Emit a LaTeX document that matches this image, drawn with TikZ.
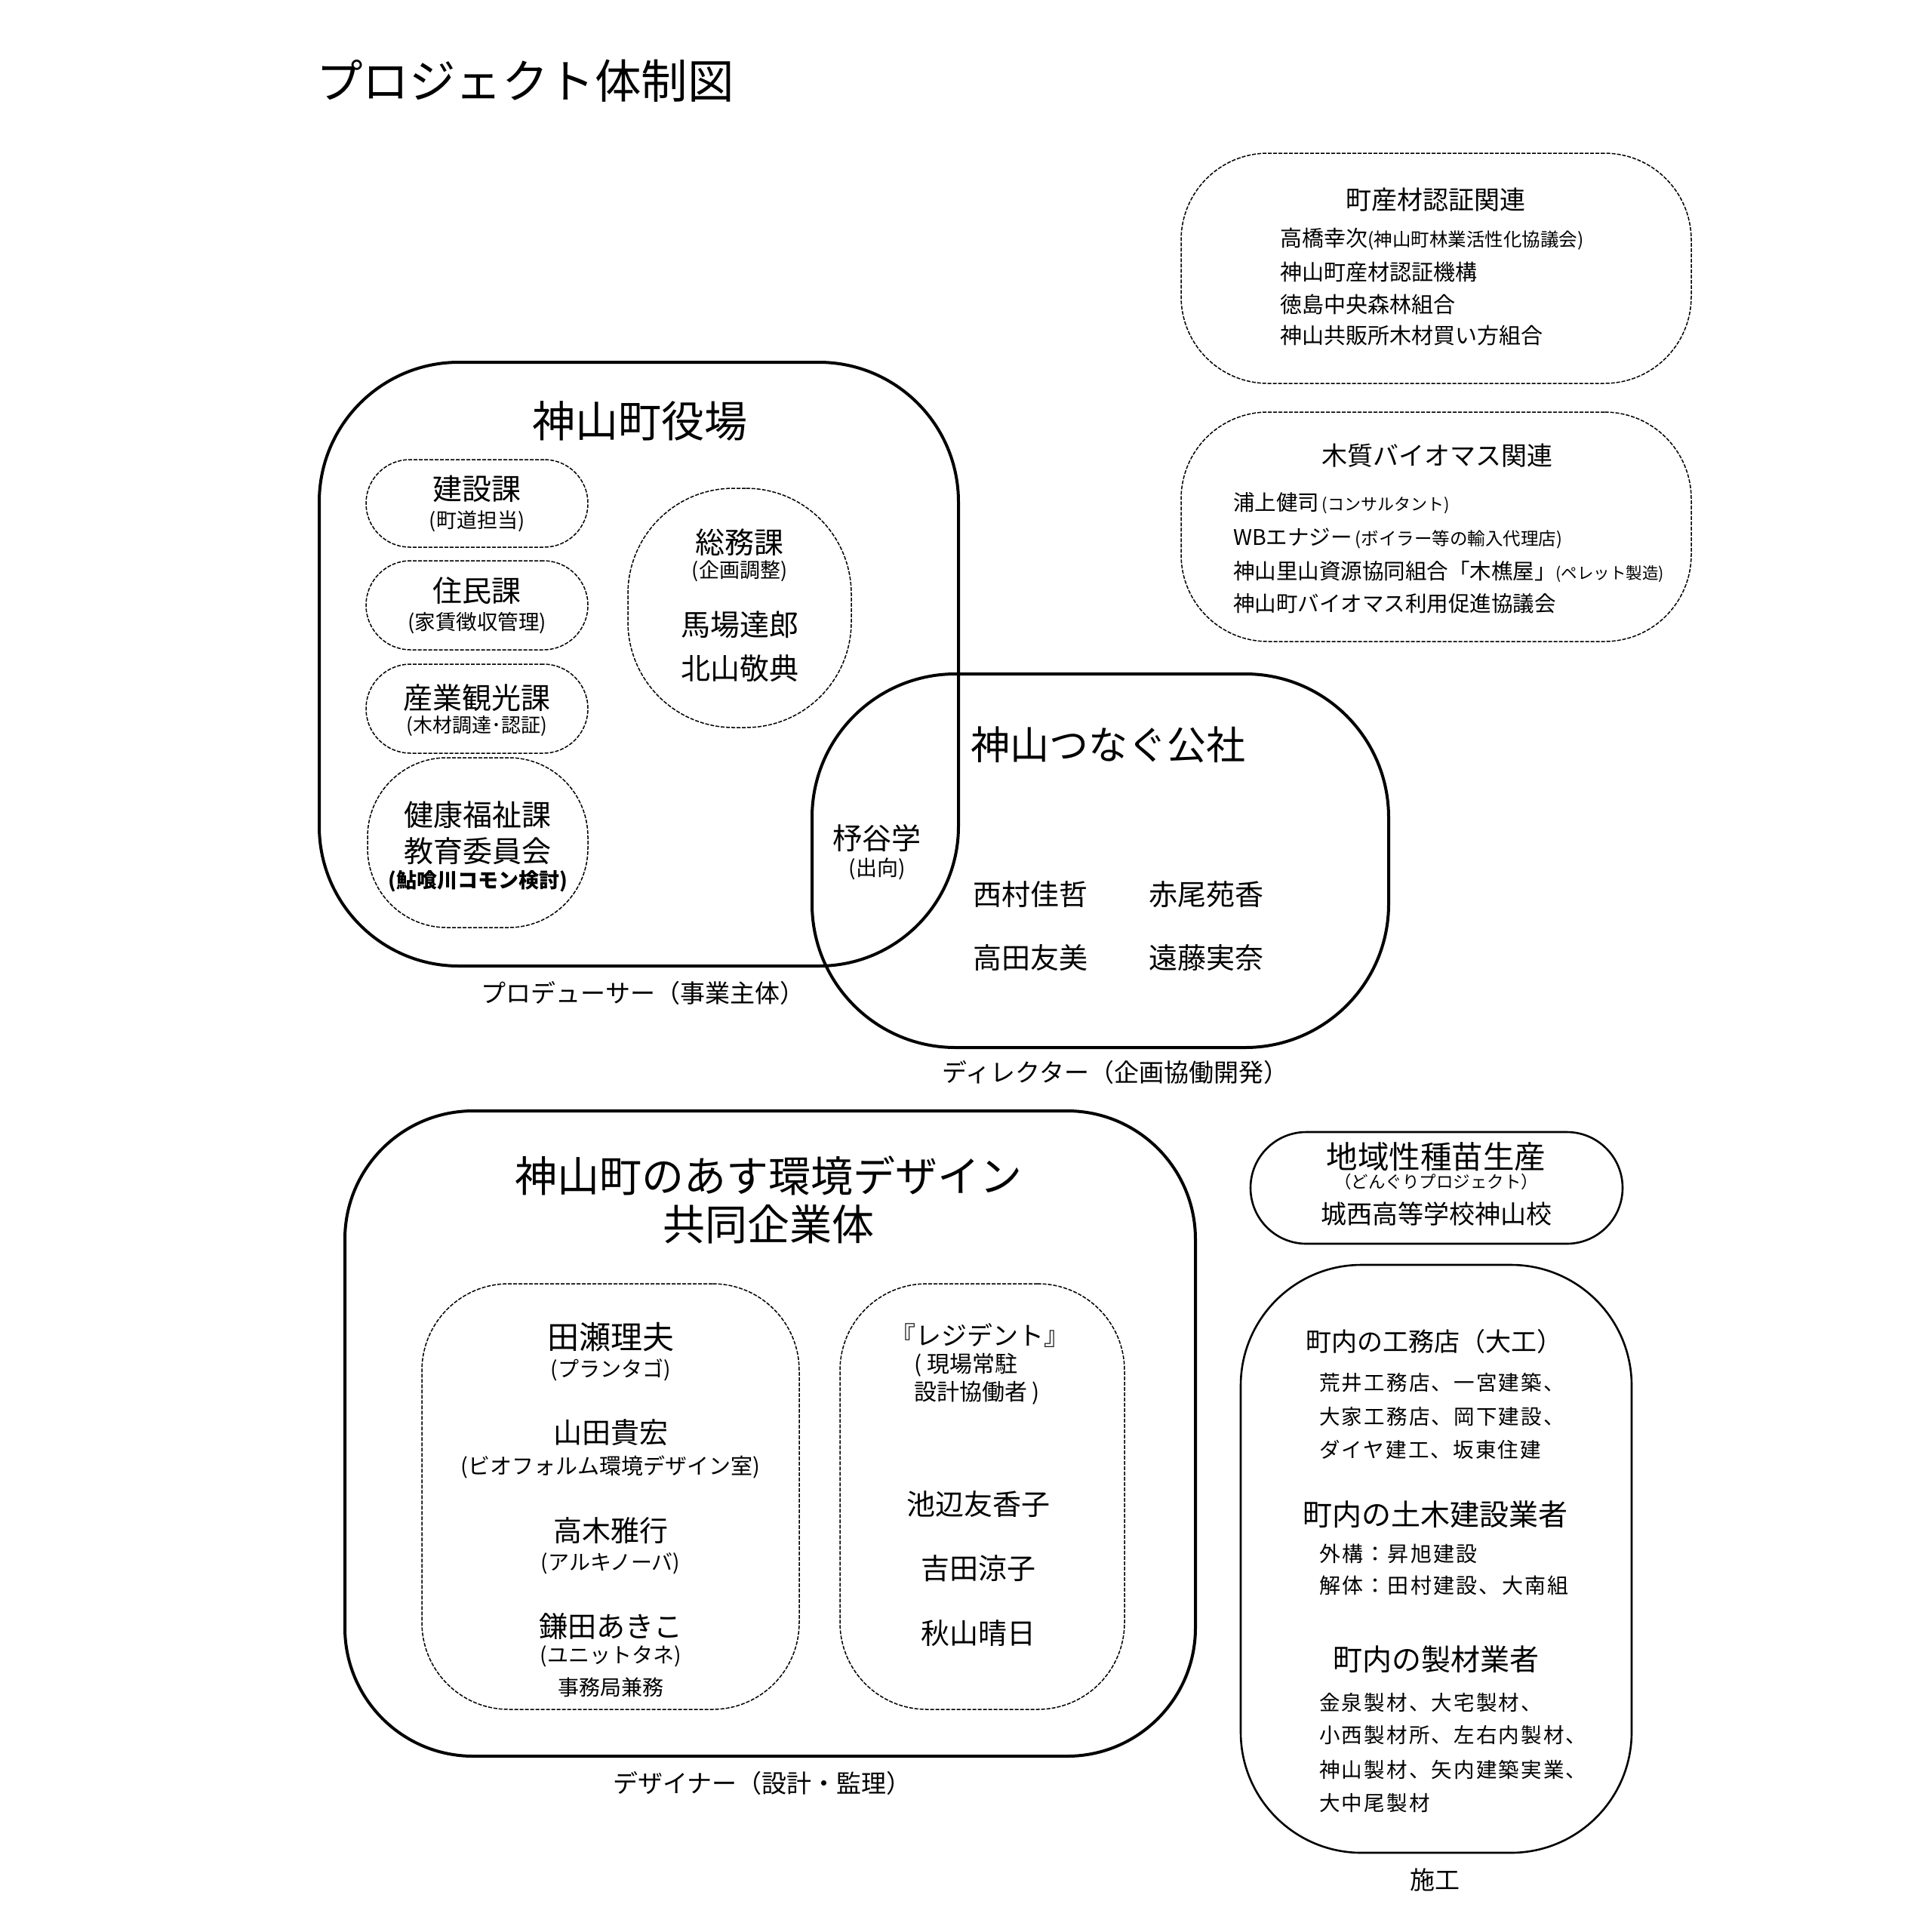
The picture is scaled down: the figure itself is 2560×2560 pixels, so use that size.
\documentclass[tikz,border=0pt]{standalone}
\usepackage{fontspec}
\setmainfont{Noto Sans CJK JP}
\newfontfamily\spacedfont[LetterSpace=8]{Noto Sans CJK JP}
\begin{document}
\begin{tikzpicture}[x=1pt,y=-1pt]
\tikzset{
  heavybox/.style={draw, line width=4pt, rounded corners=#1, inner sep=0pt},
  dashbox/.style={draw, line width=1.5pt, dash pattern=on 5pt off 2pt, rounded corners=#1, inner sep=0pt},
  solidbox/.style={draw, line width=2.6pt, rounded corners=#1, inner sep=0pt},
  lbl/.style={inner sep=0pt, font=\fontsize{#1pt}{#1pt}\selectfont},
  spaced/.style={inner sep=0pt, font=\spacedfont\fontsize{#1pt}{#1pt}\selectfont},
}
\fill[white] (0,0) rectangle (2560,2560);
\useasboundingbox (0,0) rectangle (2560,2560);

% title
\node[lbl=61.5, anchor=west] (title) at (419,107) {プロジェクト体制図};

% ---- top right: certification
\node[dashbox=115pt, minimum width=676pt, minimum height=305pt] (certbox) at (1903,355.5) {};
\node[lbl=34] (certhead) at (1902,265) {町産材認証関連};
\node[lbl=29, anchor=west] (certa) at (1696,317) {高橋幸次{\fontsize{24.5pt}{24.5pt}\selectfont(神山町林業活性化協議会)}};
\node[lbl=29, anchor=west] (certb) at (1696,361) {神山町産材認証機構};
\node[lbl=29, anchor=west] (certc) at (1696,403) {徳島中央森林組合};
\node[lbl=29, anchor=west] (certd) at (1696,444) {神山共販所木材買い方組合};

% ---- top right: biomass
\node[dashbox=115pt, minimum width=676pt, minimum height=304pt] (biobox) at (1903,698) {};
\node[lbl=34] (biohead) at (1904,604) {木質バイオマス関連};
\node[lbl=28.5, anchor=west] (bioa) at (1634,667) {浦上健司{\fontsize{22pt}{22pt}\selectfont\,(コンサルタント)}};
\node[lbl=28.5, anchor=west] (biob) at (1634,713) {WBエナジー{\fontsize{23.5pt}{23.5pt}\selectfont\,(ボイラー等の輸入代理店)}};
\node[lbl=28.5, anchor=west] (bioc) at (1634,758) {神山里山資源協同組合「木樵屋」{\fontsize{21.5pt}{21.5pt}\selectfont(ペレット製造)}};
\node[lbl=28.5, anchor=west] (biod) at (1634,800) {神山町バイオマス利用促進協議会};

% ---- town office
\node[heavybox=185pt, minimum width=847pt, minimum height=800pt] (yakuba) at (846.5,880) {};
\node[lbl=57] (yakubahead) at (848,558) {神山町役場};

\node[dashbox=58pt, minimum width=294pt, minimum height=116pt] (kensetsu) at (632,667) {};
\node[lbl=39] (kensetsua) at (632,648) {建設課};
\node[lbl=27] (kensetsub) at (632,691) {(町道担当)};

\node[dashbox=59pt, minimum width=294pt, minimum height=118pt] (jumin) at (632,802) {};
\node[lbl=39] (domina) at (632,783) {住民課};
\node[lbl=27.5] (dominb) at (632,826) {(家賃徴収管理)};

\node[dashbox=59pt, minimum width=294pt, minimum height=118pt] (sangyo) at (632,939) {};
\node[lbl=39] (sangyoa) at (632,925) {産業観光課};
\node[lbl=26] (sangyob) at (632,962) {(木材調達･認証)};

\node[dashbox=105pt, minimum width=292pt, minimum height=225pt] (kenko) at (633,1116.5) {};
\node[lbl=39] (kenkoa) at (633,1080) {健康福祉課};
\node[lbl=39] (kenkob) at (633,1128) {教育委員会};
\node[lbl=27] (kenkoc) at (633,1168) {\bfseries (鮎喰川コモン検討)};

\node[dashbox=140pt, minimum width=296pt, minimum height=317pt] (somu) at (980,805.5) {};
\node[lbl=39] (somua) at (980,719) {総務課};
\node[lbl=27] (somub) at (980,757) {(企画調整)};
\node[lbl=39] (somuc) at (980,828) {馬場達郎};
\node[lbl=39] (somud) at (980,886) {北山敬典};

\node[lbl=33] (producer) at (852,1316) {プロデューサー（事業主体）};

% ---- tsunagu
\node[heavybox=190pt, minimum width=764pt, minimum height=495pt] (tsunagu) at (1458,1140.5) {};
\node[lbl=52, anchor=west] (tsunaguhead) at (1286,987) {神山つなぐ公社};
\node[lbl=39] (hiya) at (1162,1111) {杼谷学};
\node[lbl=28] (hiyab) at (1162,1151) {(出向)};
\node[lbl=38] (nishimura) at (1365,1185) {西村佳哲};
\node[lbl=38] (akao) at (1598,1185) {赤尾苑香};
\node[lbl=38] (takata) at (1365,1269) {高田友美};
\node[lbl=38] (endo) at (1598,1269) {遠藤実奈};
\node[lbl=33] (director) at (1478,1421) {ディレクター（企画協働開発）};

% ---- design JV
\node[heavybox=170pt, minimum width=1127pt, minimum height=855pt] (design) at (1020.5,1899.5) {};
\node[lbl=56] (designa) at (1018,1558) {神山町のあす環境デザイン};
\node[lbl=56] (designb) at (1018,1622) {共同企業体};

\node[dashbox=115pt, minimum width=500pt, minimum height=564pt] (dleft) at (809,1983) {};
\node[lbl=42] (tase) at (809,1772) {田瀬理夫};
\node[lbl=28] (taseb) at (809,1815) {(プランタゴ)};
\node[lbl=38] (yamada) at (809,1898) {山田貴宏};
\node[lbl=29] (yamadab) at (809,1944) {(ビオフォルム環境デザイン室)};
\node[lbl=38] (takagi) at (809,2028) {高木雅行};
\node[lbl=28] (takagib) at (809,2072) {(アルキノーバ)};
\node[lbl=38] (kamata) at (809,2155) {鎌田あきこ};
\node[lbl=28] (kamatab) at (809,2195) {(ユニットタネ)};
\node[lbl=28] (kamatac) at (809,2236) {事務局兼務};

\node[dashbox=115pt, minimum width=377pt, minimum height=564pt] (dright) at (1301.5,1983) {};
\node[lbl=34] (resident) at (1298,1769) {『レジデント』};
\node[lbl=30, anchor=west] (residentb) at (1211,1809) {( 現場常駐};
\node[lbl=30, anchor=west] (residentc) at (1211,1846) {設計協働者 )};
\node[lbl=38] (ikebe) at (1296,1993) {池辺友香子};
\node[lbl=38] (yoshida) at (1296,2078) {吉田涼子};
\node[lbl=38] (akiyama) at (1296,2164) {秋山晴日};

\node[lbl=33] (designer) at (1010,2363) {デザイナー（設計・監理）};

% ---- seedlings
\node[solidbox=74pt, minimum width=493pt, minimum height=148pt] (seed) at (1903.5,1574) {};
\node[lbl=41.5] (seeda) at (1903,1533) {地域性種苗生産};
\node[lbl=22.5] (seedb) at (1903,1566) {（どんぐりプロジェクト）};
\node[lbl=34] (seedc) at (1903,1609) {城西高等学校神山校};

% ---- construction
\node[solidbox=160pt, minimum width=518pt, minimum height=779pt] (koumu) at (1903,2065.5) {};
\node[lbl=34] (koumua) at (1900,1778) {町内の工務店（大工）};
\node[spaced=27.5, anchor=west] (koumub) at (1748,1832) {荒井工務店、一宮建築、};
\node[spaced=27.5, anchor=west] (koumuc) at (1748,1877) {大家工務店、岡下建設、};
\node[spaced=27.5, anchor=west] (koumud) at (1748,1921) {ダイヤ建工、坂東住建};
\node[lbl=39] (doboku) at (1902,2007) {町内の土木建設業者};
\node[spaced=28, anchor=west] (dobokub) at (1748,2059) {外構：昇旭建設};
\node[spaced=28, anchor=west] (dobokuc) at (1748,2101) {解体：田村建設、大南組};
\node[lbl=39] (seizai) at (1903,2199) {町内の製材業者};
\node[spaced=27.5, anchor=west] (seizaib) at (1748,2256) {金泉製材、大宅製材、};
\node[spaced=27.5, anchor=west] (seizaic) at (1748,2299) {小西製材所、左右内製材、};
\node[spaced=27.5, anchor=west] (seizaid) at (1748,2345) {神山製材、矢内建築実業、};
\node[spaced=27.5, anchor=west] (seizaie) at (1748,2389) {大中尾製材};
\node[lbl=33] (sekou) at (1901,2491) {施工};
\end{tikzpicture}
\end{document}
